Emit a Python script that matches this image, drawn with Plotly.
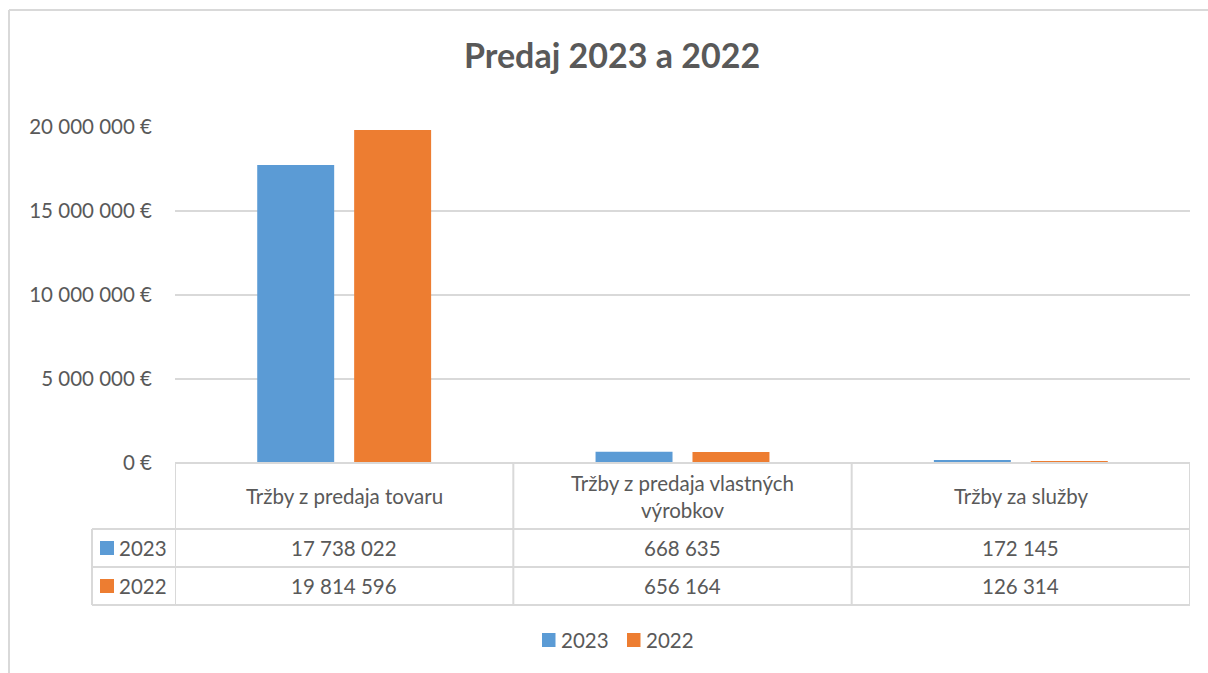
import plotly.graph_objects as go

# ---- data ----
categories = ["Tržby z predaja tovaru", "Tržby z predaja vlastných výrobkov", "Tržby za služby"]
header_labels = ["Tržby z predaja tovaru", "Tržby z predaja vlastných<br>výrobkov", "Tržby za služby"]
series_names = ["2023", "2022"]
values_2023 = [17738022, 668635, 172145]
values_2022 = [19814596, 656164, 126314]
tick_values = [0, 5000000, 10000000, 15000000, 20000000]
tick_labels = ["0 €", "5 000 000 €", "10 000 000 €", "15 000 000 €", "20 000 000 €"]

colors = ["#5B9BD5", "#ED7D31"]
series_values = [values_2023, values_2022]

W, H = 1208, 673
FONT = "Lato, 'Open Sans', sans-serif"
TXT = "#595959"
LINE = "#D9D9D9"
FS = 20.5


def px(x):
    return x / W


def py(y):
    return 1 - y / H


def fmt(v):
    return f"{v:,}".replace(",", " ")


fig = go.Figure()
for name, vals, col in zip(series_names, series_values, colors):
    fig.add_trace(go.Bar(
        x=list(range(len(categories))), y=vals, name=name,
        marker=dict(color=col, line=dict(width=0)),
        hovertext=categories, showlegend=False,
    ))

shapes = []
annotations = []

# outer chart border
shapes.append(dict(type="line", xref="paper", yref="paper", x0=px(9), x1=px(9), y0=py(10), y1=py(H + 5),
                   line=dict(color=LINE, width=2)))
shapes.append(dict(type="line", xref="paper", yref="paper", x0=px(9), x1=px(W + 5), y0=py(10), y1=py(10),
                   line=dict(color=LINE, width=2)))

# data table geometry (pixels)
top, head_bot, r1_bot, r2_bot = 463, 529, 567, 605
left_leg = 92
x_left = -0.5
x_right = len(categories) - 0.5

# horizontal lines
shapes.append(dict(type="line", xref="x", yref="paper", x0=x_left, x1=x_right, y0=py(top), y1=py(top),
                   line=dict(color=LINE, width=2)))
for yy in [head_bot, r1_bot, r2_bot]:
    shapes.append(dict(type="line", xref="paper", yref="paper", x0=px(left_leg), x1=px(1190), y0=py(yy), y1=py(yy),
                       line=dict(color=LINE, width=2)))
# vertical lines
for i in range(len(categories) + 1):
    shapes.append(dict(type="line", xref="x", yref="paper", x0=i - 0.5, x1=i - 0.5, y0=py(top), y1=py(r2_bot),
                       line=dict(color=LINE, width=2)))
shapes.append(dict(type="line", xref="paper", yref="paper", x0=px(left_leg), x1=px(left_leg), y0=py(head_bot), y1=py(r2_bot),
                   line=dict(color=LINE, width=2)))

# header labels
for i, lab in enumerate(header_labels):
    annotations.append(dict(x=i, y=py((top + head_bot) / 2), xref="x", yref="paper", text=lab, showarrow=False,
                            font=dict(size=FS, color=TXT, family=FONT), xanchor="center", yanchor="middle"))

# rows
row_centers = [(head_bot + r1_bot) / 2, (r1_bot + r2_bot) / 2]
for name, vals, col, yc in zip(series_names, series_values, colors, row_centers):
    shapes.append(dict(type="rect", xref="paper", yref="paper", x0=px(100), x1=px(114), y0=py(yc - 7), y1=py(yc + 7),
                       fillcolor=col, line=dict(width=0)))
    annotations.append(dict(x=px(117), y=py(yc), xref="paper", yref="paper", text=name, showarrow=False,
                            font=dict(size=FS, color=TXT, family=FONT), xanchor="left", yanchor="middle"))
    for i, v in enumerate(vals):
        annotations.append(dict(x=i, y=py(yc), xref="x", yref="paper", text=fmt(v), showarrow=False,
                                font=dict(size=FS, color=TXT, family=FONT), xanchor="center", yanchor="middle"))

# bottom legend
leg_y = 640
for name, col, sx in zip(series_names, colors, [542, 627]):
    shapes.append(dict(type="rect", xref="paper", yref="paper", x0=px(sx), x1=px(sx + 13.5),
                       y0=py(leg_y - 7), y1=py(leg_y + 7), fillcolor=col, line=dict(width=0)))
    annotations.append(dict(x=px(sx + 17), y=py(leg_y), xref="paper", yref="paper", text=name, showarrow=False,
                            font=dict(size=FS, color=TXT, family=FONT), xanchor="left", yanchor="middle"))

# title
annotations.append(dict(x=px(612), y=py(54), xref="paper", yref="paper", text="<b>Predaj 2023 a 2022</b>", showarrow=False,
                        font=dict(size=34, color=TXT, family=FONT), xanchor="center", yanchor="middle"))

fig.update_layout(
    width=W, height=H,
    margin=dict(l=0, r=0, t=0, b=0, autoexpand=False),
    paper_bgcolor="white", plot_bgcolor="white",
    font=dict(family=FONT, color=TXT, size=FS),
    barmode="group", bargap=0.427, bargroupgap=0.206,
    shapes=shapes, annotations=annotations,
    showlegend=False,
    xaxis=dict(domain=[px(175), px(1190)], range=[x_left, x_right], showticklabels=False, showgrid=False,
               zeroline=False, showline=False, ticks="", fixedrange=True),
    yaxis=dict(domain=[py(463), py(127)], range=[0, 20000000], tickvals=tick_values, ticktext=tick_labels,
               showgrid=True, gridcolor=LINE, gridwidth=1.5, zeroline=False, showline=False, ticks="",
               ticklabelstandoff=22, automargin=False, tickfont=dict(size=FS, color=TXT, family=FONT)),
)

fig.write_html("out.html")
